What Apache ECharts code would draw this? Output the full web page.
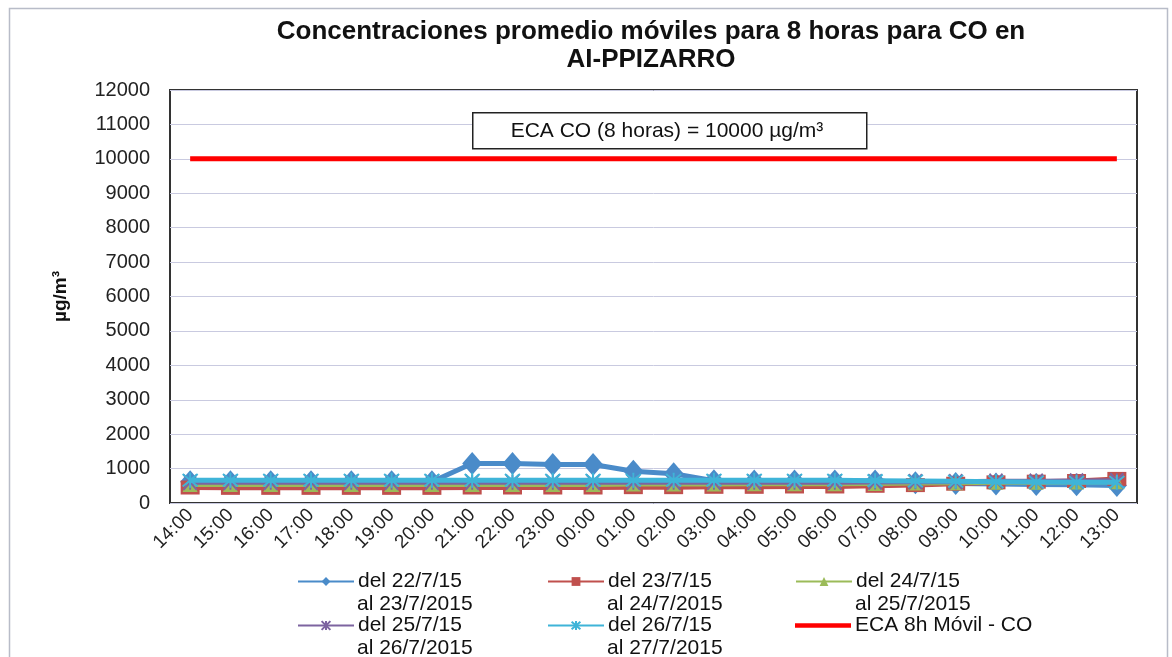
<!DOCTYPE html>
<html>
<head>
<meta charset="utf-8">
<script src="https://cdn.jsdelivr.net/npm/echarts@6/dist/echarts.min.js"></script>
<style>
  html, body { margin: 0; padding: 0; background: #fff; }
  #chart { width: 1172px; height: 657px; }
</style>
</head>
<body>
<div id="chart"></div>
<script>
// horas del promedio movil
const horas = ['14:00', '15:00', '16:00', '17:00', '18:00', '19:00', '20:00', '21:00', '22:00', '23:00',
  '00:00', '01:00', '02:00', '03:00', '04:00', '05:00', '06:00', '07:00', '08:00', '09:00',
  '10:00', '11:00', '12:00', '13:00']

const del22 = [620, 620, 620, 620, 620, 620, 620, 1150, 1150, 1120, 1120, 920, 850, 650, 640, 640, 640, 640, 590, 570, 550, 540, 530, 510]
const del23 = [450, 440, 440, 440, 440, 440, 440, 450, 450, 450, 450, 460, 460, 470, 470, 480, 480, 500, 520, 560, 600, 620, 640, 700]
const del24 = [540, 540, 540, 540, 540, 540, 540, 540, 540, 540, 540, 550, 550, 550, 560, 560, 560, 570, 580, 590, 600, 600, 610, 620]
const del25 = [600, 600, 600, 600, 600, 600, 600, 600, 600, 600, 600, 600, 600, 600, 600, 600, 600, 610, 620, 620, 630, 630, 640, 650]
const del26 = [660, 660, 660, 660, 660, 660, 660, 660, 660, 660, 660, 660, 660, 660, 660, 660, 660, 650, 640, 630, 620, 610, 600, 600]
const eca = horas.map(() => 10000)

const nombres = [
  'del 22/7/15\nal 23/7/2015',
  'del 23/7/15\nal 24/7/2015',
  'del 24/7/15\nal 25/7/2015',
  'del 25/7/15\nal 26/7/2015',
  'del 26/7/15\nal 27/7/2015',
  'ECA 8h Móvil - CO'
]
const yTicks = [0, 1000, 2000, 3000, 4000, 5000, 6000, 7000, 8000, 9000, 10000, 11000, 12000]

const FONT = 'Liberation Sans, Arial, sans-serif'
const colores = ['#4A8BC9', '#C0504D', '#9BBB59', '#7D64A0', '#3FB4D8', '#FF0000']
const simbolos = [
  'diamond',
  'rect',
  'triangle',
  'path://M0,0L10,10M10,0L0,10M5,0L5,10',
  'path://M0,0L10,10M10,0L0,10M5,-1L5,11',
  'none'
]
const tamanos = [[20, 23], [19, 14], [15, 15], [13, 15], [15, 15], 0]
const datos = [del22, del23, del24, del25, del26, eca]

const chart = echarts.init(document.getElementById('chart'))

const series = datos.map((d, i) => ({
  name: nombres[i],
  type: 'line',
  data: d,
  symbol: simbolos[i],
  symbolSize: tamanos[i],
  showSymbol: i < 5,
  lineStyle: { color: colores[i], width: 5 },
  itemStyle: {
    color: colores[i],
    borderColor: colores[i],
    borderWidth: (i === 3 || i === 4) ? 2 : 0
  },
  z: 2 + i,
  animation: false
}))

// leyenda: una por item para fijar columnas
const colX = [297, 547, 795]
const rowY = [571, 615]
const legends = nombres.map((n, i) => ({
  data: [i === 5
    ? { name: n, icon: 'path://M0,0L60,0L60,5L0,5Z', itemStyle: { color: colores[i] } }
    : n],
  left: colX[i % 3],
  top: rowY[Math.floor(i / 3)],
  orient: 'horizontal',
  itemWidth: 56,
  itemHeight: 11,
  itemGap: 4,
  padding: 0,
  formatter: name => name.split('\n')[0],
  textStyle: { fontFamily: FONT, fontSize: 21, color: '#111', padding: [0, 0, 0, -1] }
}))

const segundaLinea = nombres.map((n, i) => {
  const partes = n.split('\n')
  if (partes.length < 2) return null
  return {
    type: 'text',
    left: colX[i % 3] + 60,
    top: rowY[Math.floor(i / 3)] + 23,
    style: { text: partes[1], font: '21px ' + FONT, fill: '#111' }
  }
}).filter(Boolean)

chart.setOption({
  backgroundColor: '#fff',
  title: {
    text: 'Concentraciones promedio móviles para 8 horas para CO en\nAI-PPIZARRO',
    left: 646,
    top: 13,
    textAlign: 'center',
    textStyle: { fontFamily: FONT, fontSize: 26, fontWeight: 'bold', color: '#111', lineHeight: 28 }
  },
  legend: legends,
  grid: { left: 170, right: 35, top: 90, bottom: 154, show: true, borderColor: '#333', borderWidth: 2 },
  xAxis: {
    type: 'category',
    data: horas,
    boundaryGap: true,
    axisLine: { show: false },
    axisTick: { show: false },
    axisLabel: { rotate: 45, fontFamily: FONT, fontSize: 19, color: '#222', margin: 9, interval: 0 }
  },
  yAxis: {
    type: 'value',
    min: yTicks[0],
    max: yTicks[yTicks.length - 1],
    interval: 1000,
    name: 'µg/m³',
    nameLocation: 'middle',
    nameRotate: 90,
    nameGap: 100,
    nameTextStyle: { fontFamily: FONT, fontSize: 19, fontWeight: 'bold', color: '#111' },
    axisLine: { show: false },
    axisTick: { show: false },
    axisLabel: { fontFamily: FONT, fontSize: 20, color: '#222', margin: 20, formatter: v => String(v) },
    splitLine: { lineStyle: { color: '#C9CAE0', width: 1 } }
  },
  graphic: [
    {
      type: 'rect',
      left: 7, top: 6,
      shape: { width: 1158, height: 660 },
      style: { fill: 'none', stroke: '#B8BCC8', lineWidth: 1.5 },
      z: -1
    },
    {
      type: 'rect',
      left: 472, top: 112,
      shape: { width: 394, height: 36 },
      style: { fill: '#fff', stroke: '#222', lineWidth: 1.5 },
      z: 100
    },
    {
      type: 'text',
      x: 667, y: 131,
      style: {
        text: 'ECA CO (8 horas) = 10000 µg/m³', font: '21px ' + FONT, fill: '#111',
        align: 'center', verticalAlign: 'middle'
      },
      z: 101
    }
  ].concat(segundaLinea),
  series: series
})
</script>
</body>
</html>
